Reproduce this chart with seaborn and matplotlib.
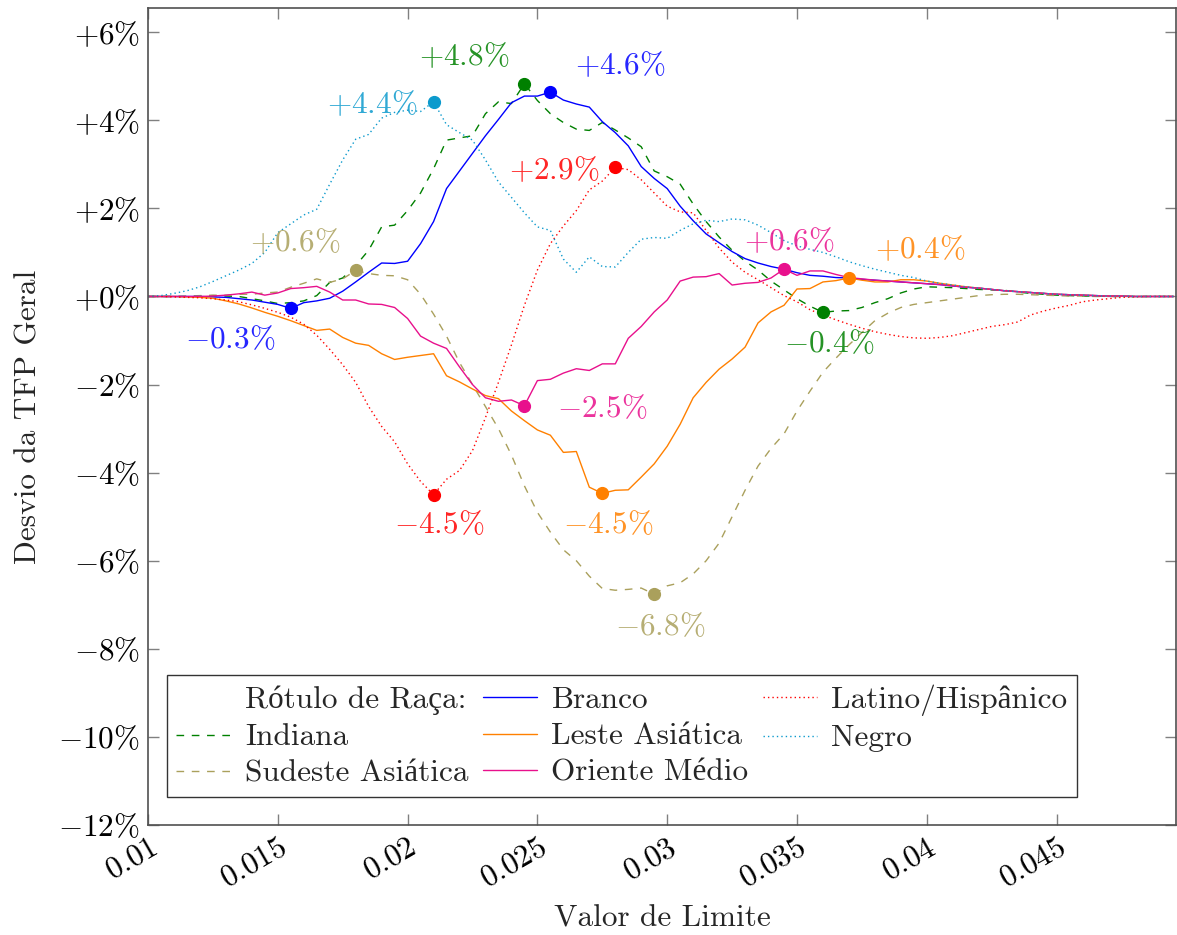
import numpy as np
import pandas as pd
import matplotlib
matplotlib.use("Agg")
import matplotlib.pyplot as plt
import seaborn as sns
from matplotlib.ticker import FuncFormatter, FixedLocator
from matplotlib.lines import Line2D

# ---------------- data ----------------
x_vals = [round(0.0100 + 0.0005 * i, 4) for i in range(80)]

indiana = [0, 0, 0, 0, 0.01, 0.02, 0.01, 0.0, -0.05, -0.1,
           -0.16, -0.14, -0.1, 0.02, 0.32, 0.42, 0.7, 1.05, 1.58, 1.62,
           1.95, 2.35, 2.9, 3.55, 3.6, 3.65, 4.15, 4.42, 4.38, 4.83,
           4.45, 4.15, 3.95, 3.8, 3.77, 3.95, 3.78, 3.6, 3.4, 2.85,
           2.72, 2.55, 2.1, 1.7, 1.35, 1.05, 0.8, 0.6, 0.35, 0.15,
           -0.05, -0.22, -0.36, -0.33, -0.32, -0.25, -0.14, -0.05, 0.08, 0.17,
           0.22, 0.21, 0.2, 0.18, 0.16, 0.15, 0.14, 0.1, 0.07, 0.05,
           0.03, 0.02, 0.01, 0.01, 0, 0, 0, 0, 0, 0]

sudeste = [0, 0, 0, 0.01, 0.02, 0.03, 0.03, 0.05, 0.05, 0.08,
           0.1, 0.21, 0.3, 0.4, 0.32, 0.4, 0.59, 0.52, 0.48, 0.47,
           0.38, 0.05, -0.4, -0.9, -1.5, -2.0, -2.5, -3.0, -3.6, -4.3,
           -4.9, -5.35, -5.75, -6.0, -6.35, -6.63, -6.67, -6.65, -6.62, -6.76,
           -6.57, -6.5, -6.3, -6.0, -5.6, -5.0, -4.4, -3.85, -3.45, -3.12,
           -2.6, -2.15, -1.72, -1.4, -1.1, -0.82, -0.55, -0.38, -0.25, -0.18,
           -0.14, -0.1, -0.06, -0.02, 0.02, 0.04, 0.05, 0.05, 0.04, 0.03,
           0.02, 0.01, 0.01, 0, 0, 0, 0, 0, 0, 0]

branco = [0, 0, 0, 0, 0, -0.01, -0.02, -0.05, -0.08, -0.13,
          -0.18, -0.27, -0.14, -0.1, -0.04, 0.12, 0.33, 0.55, 0.76, 0.75,
          0.8, 1.2, 1.7, 2.45, 2.85, 3.25, 3.65, 4.02, 4.4, 4.55,
          4.55, 4.64, 4.46, 4.37, 4.3, 3.97, 3.72, 3.42, 2.95, 2.68,
          2.45, 2.05, 1.72, 1.42, 1.22, 1.02, 0.86, 0.76, 0.68, 0.62,
          0.54, 0.48, 0.46, 0.43, 0.42, 0.39, 0.37, 0.35, 0.33, 0.31,
          0.29, 0.27, 0.24, 0.21, 0.19, 0.16, 0.13, 0.11, 0.09, 0.07,
          0.05, 0.04, 0.03, 0.02, 0.01, 0.01, 0, 0, 0, 0]

leste = [0, 0, 0, -0.01, -0.02, -0.04, -0.1, -0.17, -0.26, -0.36,
         -0.45, -0.55, -0.66, -0.77, -0.74, -0.93, -1.06, -1.11, -1.3, -1.43,
         -1.38, -1.34, -1.3, -1.8, -1.94, -2.1, -2.25, -2.32, -2.6, -2.82,
         -3.03, -3.15, -3.54, -3.52, -4.33, -4.47, -4.4, -4.39, -4.1, -3.8,
         -3.4, -2.9, -2.3, -1.95, -1.65, -1.42, -1.15, -0.6, -0.35, -0.2,
         0.17, 0.18, 0.33, 0.36, 0.42, 0.37, 0.33, 0.33, 0.38, 0.38,
         0.35, 0.3, 0.26, 0.22, 0.19, 0.16, 0.13, 0.11, 0.09, 0.07,
         0.05, 0.04, 0.03, 0.02, 0.01, 0.01, 0, 0, 0, 0]

oriente = [0, 0, 0, 0, 0, 0.01, 0.03, 0.06, 0.1, 0.03,
           0.08, 0.18, 0.2, 0.23, 0.1, -0.08, -0.08, -0.17, -0.18, -0.25,
           -0.5, -0.9, -1.06, -1.18, -1.6, -2.0, -2.3, -2.38, -2.35, -2.48,
           -1.91, -1.88, -1.74, -1.64, -1.68, -1.53, -1.53, -0.95, -0.68, -0.35,
           -0.08, 0.35, 0.44, 0.45, 0.52, 0.26, 0.3, 0.32, 0.42, 0.62,
           0.48, 0.58, 0.58, 0.5, 0.43, 0.4, 0.37, 0.35, 0.33, 0.31,
           0.29, 0.27, 0.24, 0.21, 0.19, 0.16, 0.13, 0.11, 0.09, 0.07,
           0.05, 0.04, 0.03, 0.02, 0.01, 0.01, 0, 0, 0, 0]

latino = [0, 0, -0.01, -0.02, -0.03, -0.05, -0.08, -0.12, -0.19, -0.27,
          -0.36, -0.47, -0.63, -0.88, -1.2, -1.55, -1.95, -2.5, -2.95, -3.3,
          -3.8, -4.2, -4.5, -4.15, -3.95, -3.5, -2.75, -1.95, -1.1, -0.2,
          0.6, 1.2, 1.6, 1.95, 2.42, 2.62, 2.93, 2.88, 2.65, 2.35,
          2.05, 1.92, 1.9, 1.5, 1.1, 0.78, 0.55, 0.38, 0.2, 0.02,
          -0.12, -0.3, -0.42, -0.53, -0.63, -0.72, -0.8, -0.86, -0.91, -0.94,
          -0.95, -0.93, -0.89, -0.82, -0.75, -0.68, -0.64, -0.58, -0.42, -0.33,
          -0.26, -0.2, -0.12, -0.08, -0.05, -0.02, -0.01, 0, 0, 0]

negro = [0, 0.02, 0.07, 0.13, 0.22, 0.34, 0.47, 0.6, 0.75, 1.0,
         1.45, 1.65, 1.85, 1.98, 2.55, 3.1, 3.57, 3.68, 4.05, 4.18,
         4.23, 4.2, 4.42, 3.9, 3.72, 3.55, 3.1, 2.6, 2.25, 1.9,
         1.58, 1.5, 0.85, 0.55, 0.9, 0.68, 0.67, 1.0, 1.3, 1.34,
         1.32, 1.5, 1.65, 1.73, 1.7, 1.76, 1.74, 1.62, 1.45, 1.27,
         1.15, 1.07, 1.0, 0.9, 0.79, 0.7, 0.62, 0.55, 0.48, 0.43,
         0.35, 0.3, 0.26, 0.22, 0.19, 0.16, 0.13, 0.11, 0.09, 0.07,
         0.05, 0.04, 0.03, 0.02, 0.01, 0.01, 0, 0, 0, 0]

series_names = ["Indiana", "Sudeste Asiática", "Branco", "Leste Asiática",
                "Oriente Médio", "Latino/Hispânico", "Negro"]
series_values = [indiana, sudeste, branco, leste, oriente, latino, negro]
y_ticks = [-12, -10, -8, -6, -4, -2, 0, 2, 4, 6]
x_ticks = [0.01, 0.015, 0.02, 0.025, 0.03, 0.035, 0.04, 0.045]
legend_title = "Rótulo de Raça:"
x_label = "Valor de Limite"
y_label = "Desvio da TFP Geral"

# ---------------- style ----------------
colors = {
    "Indiana": "#008000",
    "Sudeste Asiática": "#AAA05C",
    "Branco": "#0000FF",
    "Leste Asiática": "#FF8000",
    "Oriente Médio": "#E8108C",
    "Latino/Hispânico": "#FF0000",
    "Negro": "#0C9ACD",
}
dashes = {
    "Indiana": (5.5, 5.5),
    "Sudeste Asiática": (5.5, 5.5),
    "Branco": "",
    "Leste Asiática": "",
    "Oriente Médio": "",
    "Latino/Hispânico": (1, 2.2),
    "Negro": (1, 2.2),
}
# label offsets in pixels (dx, dy) for (series, 'max'/'min')
label_offsets = {
    ("Indiana", "max"): (-60, 28), ("Indiana", "min"): (6, -31),
    ("Branco", "max"): (70, 27), ("Branco", "min"): (-61, -31),
    ("Negro", "max"): (-61, -2),
    ("Latino/Hispânico", "max"): (-61, -3), ("Latino/Hispânico", "min"): (6, -30),
    ("Leste Asiática", "max"): (71, 29), ("Leste Asiática", "min"): (6, -31),
    ("Sudeste Asiática", "max"): (-60, 28), ("Sudeste Asiática", "min"): (6, -32),
    ("Oriente Médio", "max"): (5, 28), ("Oriente Médio", "min"): (78, -3),
}

sns.set_theme(style="white")
plt.rcParams["font.family"] = ["cmr10", "Liberation Serif"]
plt.rcParams["mathtext.fontset"] = "cm"
plt.rcParams["axes.unicode_minus"] = True
plt.rcParams["axes.formatter.use_mathtext"] = True

FS = 22.5

rows = []
for name, vals in zip(series_names, series_values):
    for xv, yv in zip(x_vals, vals):
        rows.append({"x": xv, "y": yv, "series": name})
df = pd.DataFrame(rows)

fig = plt.figure(figsize=(11.77, 9.35), dpi=100)
ax = fig.add_axes([148 / 1177, 1 - 825 / 935, 1028 / 1177, (825 - 8) / 935])

sns.lineplot(data=df, x="x", y="y", hue="series", style="series",
             hue_order=series_names, style_order=series_names,
             palette=colors, dashes=dashes, linewidth=1.0, ax=ax,
             legend=False, estimator=None, sort=False)

# extreme markers + labels
for name, vals in zip(series_names, series_values):
    arr = np.array(vals, dtype=float)
    xs = np.array(x_vals)
    for kind, idx in (("max", int(np.argmax(arr))), ("min", int(np.argmin(arr)))):
        v = arr[idx]
        if abs(v) < 0.05:
            continue
        key = (name, kind)
        if key not in label_offsets:
            continue
        ax.plot(xs[idx], v, "o", color=colors[name], markersize=8.5, zorder=5)
        sign = "+" if v >= 0 else "-"
        txt = r"$%s%.1f\%%$" % (sign, abs(v))
        ax.annotate(txt, (xs[idx], v), xytext=label_offsets[key],
                    textcoords="offset pixels", ha="center", va="center",
                    color=colors[name], fontsize=FS, alpha=0.85)

ax.set_xlim(0.01, 0.0496)
ax.set_ylim(-12, 6.55)

ax.xaxis.set_major_locator(FixedLocator(x_ticks))
ax.yaxis.set_major_locator(FixedLocator(y_ticks))
ax.xaxis.set_major_formatter(FuncFormatter(lambda v, p: r"$%s$" % ("%g" % v)))
ax.yaxis.set_major_formatter(FuncFormatter(
    lambda v, p: r"$%s%d\%%$" % ("+" if v >= 0 else "-", abs(round(v)))))

ax.tick_params(axis="both", which="major", direction="in", length=8,
               width=1.0, color="#808080", labelsize=FS,
               top=True, right=True, bottom=True, left=True,
               labelcolor="black", pad=6)
for lab in ax.get_xticklabels():
    lab.set_rotation(30)
    lab.set_ha("right")
    lab.set_va("top")
    lab.set_rotation_mode("anchor")

for s in ax.spines.values():
    s.set_color("#505050")
    s.set_linewidth(1.2)

ax.set_xlabel(x_label, fontsize=FS, labelpad=8)
ax.set_ylabel(y_label, fontsize=FS, labelpad=11)

# legend
handles = [Line2D([], [], linestyle="none")]
labels = [legend_title]
for name in series_names:
    d = dashes[name]
    h = Line2D([], [], color=colors[name], linewidth=1.0)
    if d:
        h.set_dashes(d)
    handles.append(h)
    labels.append(name)
leg = ax.legend(handles, labels, ncol=3, loc="lower left",
                bbox_to_anchor=(0.0185, 0.034), borderaxespad=0,
                fontsize=FS, frameon=True, fancybox=False,
                handlelength=1.75, handletextpad=0.45, columnspacing=0.45,
                labelspacing=0.27, borderpad=0.3)
leg.get_frame().set_edgecolor("black")
leg.get_frame().set_linewidth(1.0)

fig.savefig("out.png", dpi=100)
